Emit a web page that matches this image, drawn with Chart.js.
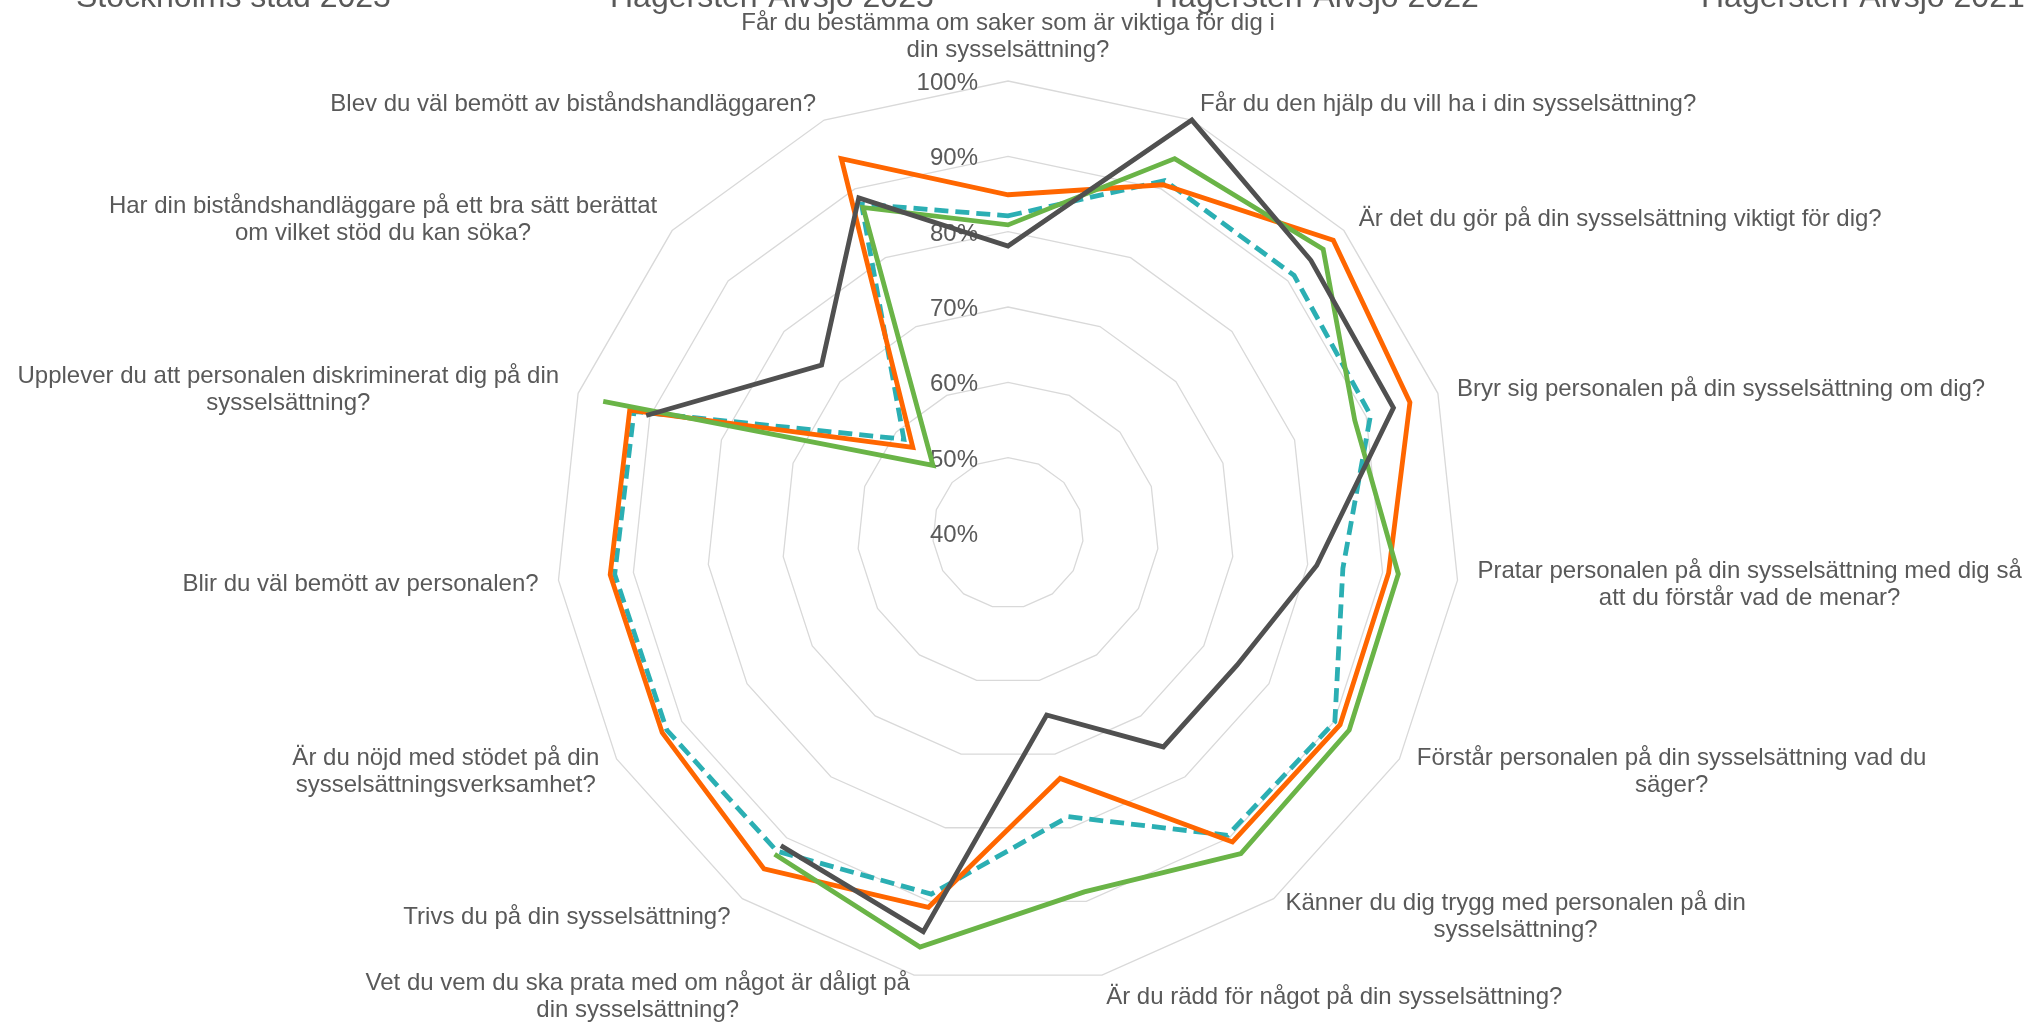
<!DOCTYPE html>
<html lang="sv">
<head>
<meta charset="utf-8">
<title>Sysselsättning – radar</title>
<script src="https://cdn.jsdelivr.net/npm/chart.js@4.4.1/dist/chart.umd.min.js"></script>
<style>
  html, body { margin: 0; padding: 0; background: #fff; }
  #wrap { position: relative; width: 2026px; height: 1022px; }
</style>
</head>
<body>
<div id="wrap"><canvas id="radar"></canvas></div>
<script>
// Frågorna, medurs från toppen (radbrytningar som i originalet)
const categories = [
  ["Får du bestämma om saker som är viktiga för dig i", "din sysselsättning?"],
  ["Får du den hjälp du vill ha i din sysselsättning?"],
  ["Är det du gör på din sysselsättning viktigt för dig?"],
  ["Bryr sig personalen på din sysselsättning om dig?"],
  ["Pratar personalen på din sysselsättning med dig så", "att du förstår vad de menar?"],
  ["Förstår personalen på din sysselsättning vad du", "säger?"],
  ["Känner du dig trygg med personalen på din", "sysselsättning?"],
  ["Är du rädd för något på din sysselsättning?"],
  ["Vet du vem du ska prata med om något är dåligt på", "din sysselsättning?"],
  ["Trivs du på din sysselsättning?"],
  ["Är du nöjd med stödet på din", "sysselsättningsverksamhet?"],
  ["Blir du väl bemött av personalen?"],
  ["Upplever du att personalen diskriminerat dig på din", "sysselsättning?"],
  ["Har din biståndshandläggare på ett bra sätt berättat", "om vilket stöd du kan söka?"],
  ["Blev du väl bemött av biståndshandläggaren?"]
];

const seriesNames = ["Stockholms stad 2023", "Hägersten-Älvsjö 2023", "Hägersten-Älvsjö 2022", "Hägersten-Älvsjö 2021"];

// Andel i procent
const stockholm2023 = [82.1, 91.2, 91.1, 90.6, 84.7, 90.1, 89.6, 78.5, 89.0, 92.2, 92.3, 92.5, 92.2, 58.6, 87.8];
const hagersten2023 = [84.9, 90.6, 98.1, 96.1, 90.8, 90.9, 90.7, 73.3, 90.8, 95.1, 93.0, 93.1, 92.8, 57.0, 94.4];
const hagersten2022 = [80.9, 94.4, 96.3, 88.4, 92.1, 92.3, 92.6, 88.7, 96.2, 92.7, null, null, 96.5, 53.4, 87.3];
const hagersten2021 = [78.1, 100, 94.1, 93.8, 81.2, 75.1, 75.1, 64.7, 94.1, 91.3, null, null, 90.5, 73.3, 88.7];

const tickValues = [40, 50, 60, 70, 80, 90, 100];
const tickLabels = ["40%", "50%", "60%", "70%", "80%", "90%", "100%"];

const TEXT = "#595959";
const FONT = '"Liberation Sans", Arial, sans-serif';
const LINE_H = 27;
const TEXT_DY = 2.5;
const legendLeft = [76, 610, 1155, 1701];

// Excel-liknande etiketter: axeltext till vänster om axeln, frågor centrerade i höjd
const excelLabels = {
  id: "excelLabels",
  beforeDatasetsDraw(chart) {
    const r = chart.scales.r;
    const ctx = chart.ctx;
    ctx.save();
    ctx.fillStyle = TEXT;
    ctx.font = "24px " + FONT;

    ctx.textAlign = "right";
    ctx.textBaseline = "middle";
    tickValues.forEach((v, k) => {
      ctx.fillText(tickLabels[k], r.xCenter - 30, r.yCenter - r.getDistanceFromCenterForValue(v) + TEXT_DY);
    });

    ctx.textAlign = "center";
    categories.forEach((lines, i) => {
      const p = r.getPointPosition(i, r.drawingArea + 20);
      const dx = p.x - r.xCenter;
      const w = Math.max(...lines.map(ln => ctx.measureText(ln).width));
      const h = lines.length * LINE_H;
      let cx = p.x;
      if (dx > 2) cx = p.x + w / 2;
      else if (dx < -2) cx = p.x - w / 2;
      let top = p.y - h / 2;
      if (Math.abs(dx) <= 2) top = p.y < r.yCenter ? p.y - h : p.y;
      lines.forEach((ln, k) => ctx.fillText(ln, cx, top + LINE_H * (k + 0.5) + TEXT_DY));
    });
    ctx.restore();
  },
  afterDraw(chart) {
    // förklaringen sitter delvis ovanför bildkanten
    const ctx = chart.ctx;
    ctx.save();
    ctx.fillStyle = TEXT;
    ctx.font = "32px " + FONT;
    ctx.textAlign = "left";
    ctx.textBaseline = "alphabetic";
    chart.data.datasets.forEach((ds, k) => {
      ctx.fillText(ds.label, legendLeft[k], 7);
    });
    ctx.restore();
  }
};

function serie(label, data, color, order, dash) {
  return {
    label: label,
    data: data,
    borderColor: color,
    backgroundColor: color,
    borderWidth: 4.8,
    borderDash: dash || [],
    borderCapStyle: "butt",
    borderJoinStyle: "miter",
    fill: false,
    tension: 0,
    spanGaps: false,
    pointRadius: 0,
    pointHoverRadius: 0,
    order: order
  };
}

const ctx = document.getElementById("radar").getContext("2d");
const chart = new Chart(ctx, {
  type: "radar",
  data: {
    labels: categories,
    datasets: [
      serie(seriesNames[0], stockholm2023, "#2BAFB3", 4, [14, 7]),
      serie(seriesNames[1], hagersten2023, "#FF6600", 3),
      serie(seriesNames[2], hagersten2022, "#6AB447", 2),
      serie(seriesNames[3], hagersten2021, "#505050", 1)
    ]
  },
  options: {
    responsive: true,
    maintainAspectRatio: false,
    animation: false,
    devicePixelRatio: 1,
    layout: {
      padding: { left: 556, right: 566, top: 81, bottom: 37 }
    },
    plugins: {
      legend: { display: false },
      tooltip: { enabled: false },
      title: { display: false }
    },
    scales: {
      r: {
        min: 40,
        max: 100,
        ticks: { stepSize: 10, display: false, showLabelBackdrop: false },
        grid: { color: "#D9D9D9", lineWidth: 1.3 },
        angleLines: { display: false },
        pointLabels: { display: false }
      }
    }
  },
  plugins: [excelLabels]
});
</script>
</body>
</html>
